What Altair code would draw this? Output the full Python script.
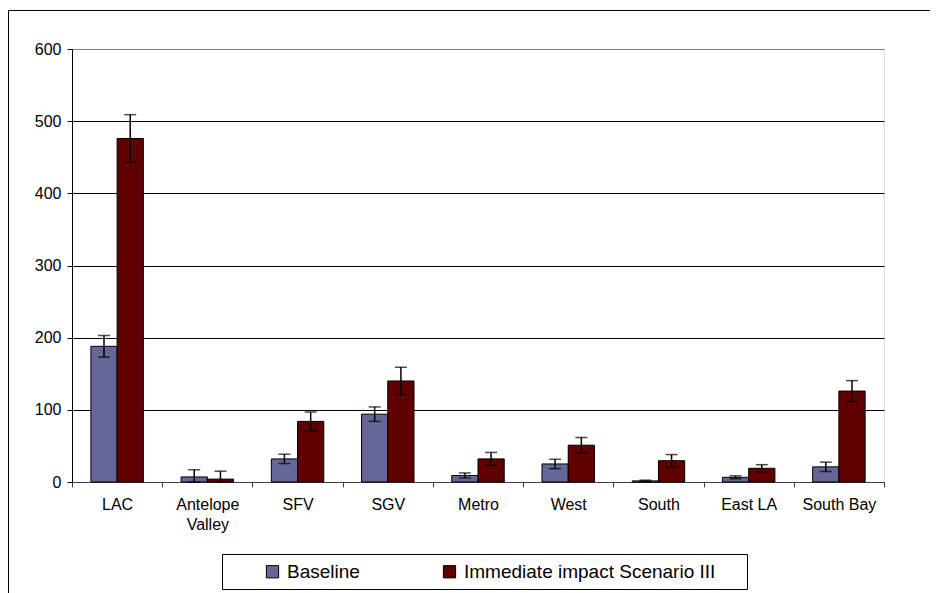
import altair as alt
import pandas as pd

categories = ["LAC", "Antelope Valley", "SFV", "SGV", "Metro", "West", "South", "East LA", "South Bay"]
series_names = ["Baseline", "Immediate impact Scenario III"]
baseline = [188, 7, 32, 94, 9, 25, 1.5, 6.5, 21]
baseline_err = [15, 10, 6.5, 10, 3.5, 6.5, 1, 2, 6.5]
scenario = [476, 4, 84, 140, 32, 51, 29.5, 19, 126]
scenario_err = [33, 11, 13, 19, 9, 10.5, 8.5, 5, 14.5]
y_ticks = [0, 100, 200, 300, 400, 500, 600]
colors = ["#666699", "#600000"]

rows = []
for i, c in enumerate(categories):
    for s, vals, errs in ((series_names[0], baseline, baseline_err), (series_names[1], scenario, scenario_err)):
        v, e = vals[i], errs[i]
        rows.append({"category": c, "series": s, "value": v,
                     "lo": max(0, v - e), "hi": v + e})
df = pd.DataFrame(rows)

FONT = "Liberation Sans"
W, H = 812, 433

x_enc = alt.X("category:N", sort=categories, title=None,
              scale=alt.Scale(paddingInner=0, paddingOuter=0),
              axis=alt.Axis(labelAngle=0, labelFont=FONT, labelFontSize=16, labelColor="black",
                            labelPadding=9, tickBand="extent", tickSize=5, tickColor="#404040",
                            domainColor="#404040", grid=False, labelLineHeight=20,
                            labelExpr="datum.label == 'Antelope Valley' ? ['Antelope', 'Valley'] : datum.label"))
xoff = alt.XOffset("series:N", sort=series_names,
                   scale=alt.Scale(paddingInner=0, paddingOuter=0.72))
y_scale = alt.Scale(domain=[0, 600], nice=False)

base = alt.Chart(df)

frame = alt.Chart(pd.DataFrame({"k": [0]})).mark_rect(fill=None, stroke="black", strokeWidth=1).encode(
    x=alt.value(-63.5), x2=alt.value(W + 200), y=alt.value(-38.5), y2=alt.value(H + 300))

legend_box = alt.Chart(pd.DataFrame({"k": [0]})).mark_rect(fill="white", stroke="black", strokeWidth=1).encode(
    x=alt.value(150.5), x2=alt.value(675.5), y=alt.value(505.5), y2=alt.value(540.5))

bars = base.mark_bar(stroke="black", strokeWidth=1).encode(
    x=x_enc,
    xOffset=xoff,
    y=alt.Y("value:Q", scale=y_scale, title=None,
            axis=alt.Axis(values=y_ticks, labelFont=FONT, labelFontSize=16, labelColor="black",
                          labelPadding=6, tickSize=5, tickColor="black", domainColor="black",
                          grid=True,
                          gridColor=alt.condition("datum.value == 600", alt.value("#808080"), alt.value("black")),
                          gridWidth=1)),
    color=alt.Color("series:N", sort=series_names,
                    scale=alt.Scale(domain=series_names, range=colors),
                    legend=alt.Legend(title=None, orient="none", legendX=191, legendY=513,
                                      direction="horizontal", columns=2, columnPadding=80,
                                      labelFont=FONT, labelFontSize=19, labelColor="black",
                                      labelLimit=500,
                                      symbolType="square", symbolSize=150, symbolStrokeColor="black",
                                      symbolStrokeWidth=1, labelOffset=5, padding=0)),
)

err_rule = base.mark_rule(color="black", strokeWidth=1.5).encode(
    x=alt.X("category:N", sort=categories), xOffset=xoff,
    y=alt.Y("lo:Q", scale=y_scale), y2="hi:Q")

cap_lo = base.mark_tick(color="black", thickness=1.5, size=12, orient="horizontal").encode(
    x=alt.X("category:N", sort=categories), xOffset=xoff,
    y=alt.Y("lo:Q", scale=y_scale))
cap_hi = base.mark_tick(color="black", thickness=1.5, size=12, orient="horizontal").encode(
    x=alt.X("category:N", sort=categories), xOffset=xoff,
    y=alt.Y("hi:Q", scale=y_scale))

chart = alt.layer(frame, legend_box, bars, err_rule, cap_lo, cap_hi).properties(
    width=W, height=H,
    autosize=alt.AutoSizeParams(type="none"),
    padding={"left": 64, "top": 41, "right": 46, "bottom": 111},
).configure_view(stroke="#808080", strokeWidth=1).configure(background="white")

chart.save("out.html", embed_options={"renderer": "svg", "actions": False})
